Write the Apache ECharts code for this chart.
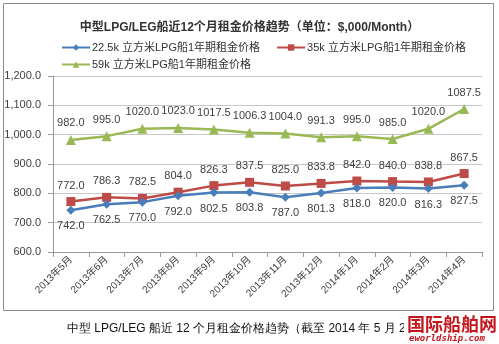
<!DOCTYPE html>
<html><head><meta charset="utf-8">
<script src="https://cdn.jsdelivr.net/npm/echarts@6/dist/echarts.min.js"></script>
<style>html,body{margin:0;padding:0;background:#fff}#c{width:499px;height:344px}</style>
</head><body><div id="c"></div>
<script>
var categories = ['2013年5月','2013年6月','2013年7月','2013年8月','2013年9月','2013年10月','2013年11月','2013年12月','2014年1月','2014年2月','2014年3月','2014年4月'];
var s22 = [742.0,762.5,770.0,792.0,802.5,803.8,787.0,801.3,818.0,820.0,816.3,827.5];
var s35 = [772.0,786.3,782.5,804.0,826.3,837.5,825.0,833.8,842.0,840.0,838.8,867.5];
var s59 = [982.0,995.0,1020.0,1023.0,1017.5,1006.3,1004.0,991.3,995.0,985.0,1020.0,1087.5];
var names = ['22.5k 立方米LPG船1年期租金价格','35k 立方米LPG船1年期租金价格','59k 立方米LPG船1年期租金价格'];
var yTicks = {min:600, max:1200, interval:100};

var font = '"Liberation Sans", Arial, "Noto Sans CJK SC", sans-serif';
var chart = echarts.init(document.getElementById('c'));
function fmt(v){ return v.toFixed(1).replace(/\B(?=(\d{3})+(?!\d))/g, ','); }
var lbl = {show:true, fontSize:11, color:'#404040', fontFamily:font, formatter:function(p){return p.value.toFixed(1);}};
chart.setOption({
  animation:false,
  textStyle:{fontFamily:font},
  title:{text:'中型LPG/LEG船近12个月租金价格趋势（单位：$,000/Month）', left:'center', top:17,
    textStyle:{fontSize:12, fontWeight:'bold', color:'#333', fontFamily:font}},
  legend:[
    {data:[names[0],names[1]], left:56, top:37, itemWidth:28, itemHeight:8, itemGap:16,
      textStyle:{fontSize:11, color:'#333', fontFamily:font, padding:[0,0,0,-3]}},
    {data:[names[2]], left:56, top:54, itemWidth:28, itemHeight:8,
      textStyle:{fontSize:11, color:'#333', fontFamily:font, padding:[0,0,0,-3]}}
  ],
  grid:{left:53, right:17, top:76, bottom:92, containLabel:false},
  xAxis:{type:'category', data:categories, boundaryGap:true,
    axisLine:{lineStyle:{color:'#999'}}, axisTick:{show:true, lineStyle:{color:'#999'}},
    axisLabel:{rotate:45, fontSize:10, color:'#404040', fontFamily:font, interval:0, margin:6}},
  yAxis:{type:'value', min:yTicks.min, max:yTicks.max, interval:yTicks.interval,
    axisLine:{show:true, lineStyle:{color:'#999'}}, axisTick:{show:true, lineStyle:{color:'#999'}},
    splitLine:{lineStyle:{color:'#c8c8c8'}},
    axisLabel:{fontSize:11, color:'#404040', fontFamily:font, formatter:fmt, margin:12}},
  series:[
    {name:names[0], type:'line', data:s22, symbol:'diamond', symbolSize:9,
      itemStyle:{color:'#4A7EBB'}, lineStyle:{width:2.5, color:'#4A7EBB'},
      label:Object.assign({position:'bottom', distance:6}, lbl), z:3},
    {name:names[1], type:'line', data:s35, symbol:'rect', symbolSize:9,
      itemStyle:{color:'#BE4B48'}, lineStyle:{width:2.5, color:'#BE4B48'},
      label:Object.assign({position:'top', distance:6}, lbl), z:2},
    {name:names[2], type:'line', data:s59, symbol:'triangle', symbolSize:10,
      itemStyle:{color:'#98B954'}, lineStyle:{width:2.5, color:'#98B954'},
      label:Object.assign({position:'top', distance:6}, lbl), z:2}
  ],
  graphic:[
    {type:'rect', shape:{x:3.5, y:3.5, width:490, height:307}, style:{fill:'none', stroke:'#8c8c8c', lineWidth:1}, silent:true, z:-1},
    {type:'text', left:67, top:323, style:{text:'中型 LPG/LEG 船近 12 个月租金价格趋势（截至 2014 年 5 月 28 日）', fontSize:12, fill:'#111', font:'12px '+font}},
    {type:'rect', shape:{x:404, y:314, width:95, height:30}, style:{fill:'#fff'}, z:10},
    {type:'text', left:407, top:315, z:11, style:{text:'国际船舶网', font:'bold 18px "Noto Sans CJK SC", sans-serif', fill:'#c4161c'}},
    {type:'text', left:409, top:334, z:11, style:{text:'eworldship.com', font:'italic bold 9px "DejaVu Sans Mono", monospace', fill:'#c4161c', letterSpacing:1}}
  ]
});
</script></body></html>
